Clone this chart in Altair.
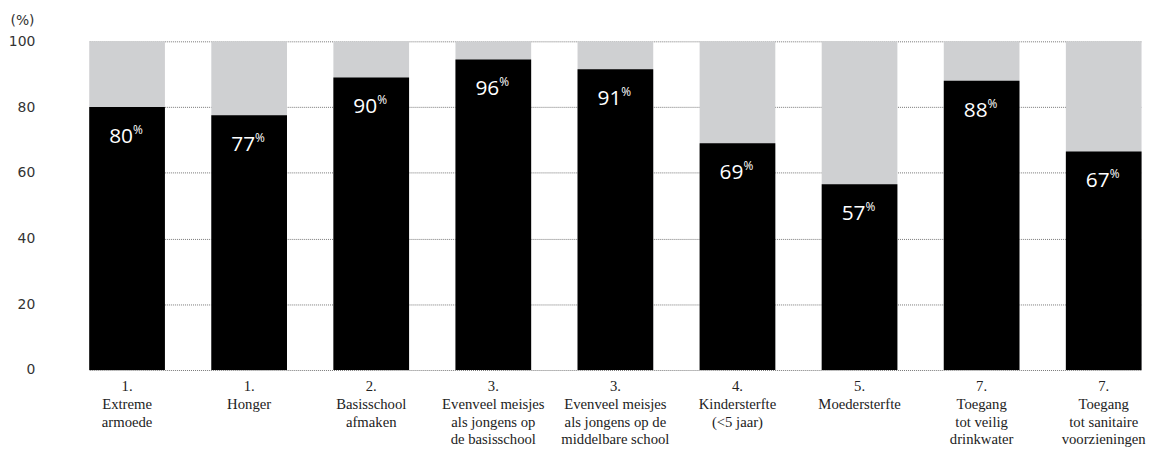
import altair as alt
import pandas as pd

categories = [
    "1.|Extreme|armoede",
    "1.|Honger",
    "2.|Basisschool|afmaken",
    "3.|Evenveel meisjes|als jongens op|de basisschool",
    "3.|Evenveel meisjes|als jongens op de|middelbare school",
    "4.|Kindersterfte|(<5 jaar)",
    "5.|Moedersterfte",
    "7.|Toegang|tot veilig|drinkwater",
    "7.|Toegang|tot sanitaire|voorzieningen",
]
bar_values = [80, 77.5, 89, 94.5, 91.5, 69, 56.5, 88, 66.5]
labels = ["80", "77", "90", "96", "91", "69", "57", "88", "67"]
totals = [100] * 9

df = pd.DataFrame({"cat": categories, "value": bar_values, "label": labels, "total": totals})

xscale = alt.Scale(domain=categories, range=[43.8, 1103.5], paddingInner=0.38, paddingOuter=0)
x = alt.X("cat:N", sort=None, scale=xscale,
          axis=alt.Axis(title=None, labelExpr="split(datum.label, '|')", labelAngle=0,
                        labelFont="Liberation Serif", labelFontSize=14.8, labelLineHeight=17.7,
                        labelColor="#222", labelPadding=9, ticks=False, domain=False,
                        labelBaseline="top", grid=False, labelOverlap=False, labelBound=False))
yscale = alt.Scale(domain=[0, 100], nice=False)

base = alt.Chart(df)

bg = base.mark_bar(color="#cfd0d2").encode(
    x=x,
    y=alt.Y("total:Q", scale=yscale,
            axis=alt.Axis(values=[0, 20, 40, 60, 80, 100], title="(%)", titleAngle=0,
                          titleAlign="left", titleX=-36, titleY=-14, titleFont="DejaVu Sans",
                          titleFontSize=14, titleFontWeight="normal", titleColor="#333",
                          labelFont="DejaVu Sans", labelFontSize=14, labelColor="#333",
                          labelPadding=11, ticks=False, domain=False, grid=True,
                          gridColor="#777777", gridDash=[1, 1], gridWidth=1)),
)
fg = base.mark_bar(color="#000000").encode(x=x, y=alt.Y("value:Q", scale=yscale))
num = base.mark_text(color="white", font="Open Sans", fontSize=21, align="right",
                     baseline="alphabetic", dx=6, dy=36).encode(
    x=x, y=alt.Y("value:Q", scale=yscale), text="label:N")
pct = base.mark_text(color="white", font="Open Sans", fontSize=12, align="left",
                     baseline="alphabetic", dx=6, dy=27).encode(
    x=x, y=alt.Y("value:Q", scale=yscale), text=alt.value("%"))

chart = alt.layer(bg, fg, num, pct).properties(
    width=1110, height=331,
    autosize=alt.AutoSizeParams(type="none"),
    padding={"left": 38, "top": 32, "right": 0, "bottom": 79},
).configure_view(stroke=None).configure_axis(gridOpacity=1)

chart.save("out.html", embed_options={"renderer": "svg", "actions": False})
